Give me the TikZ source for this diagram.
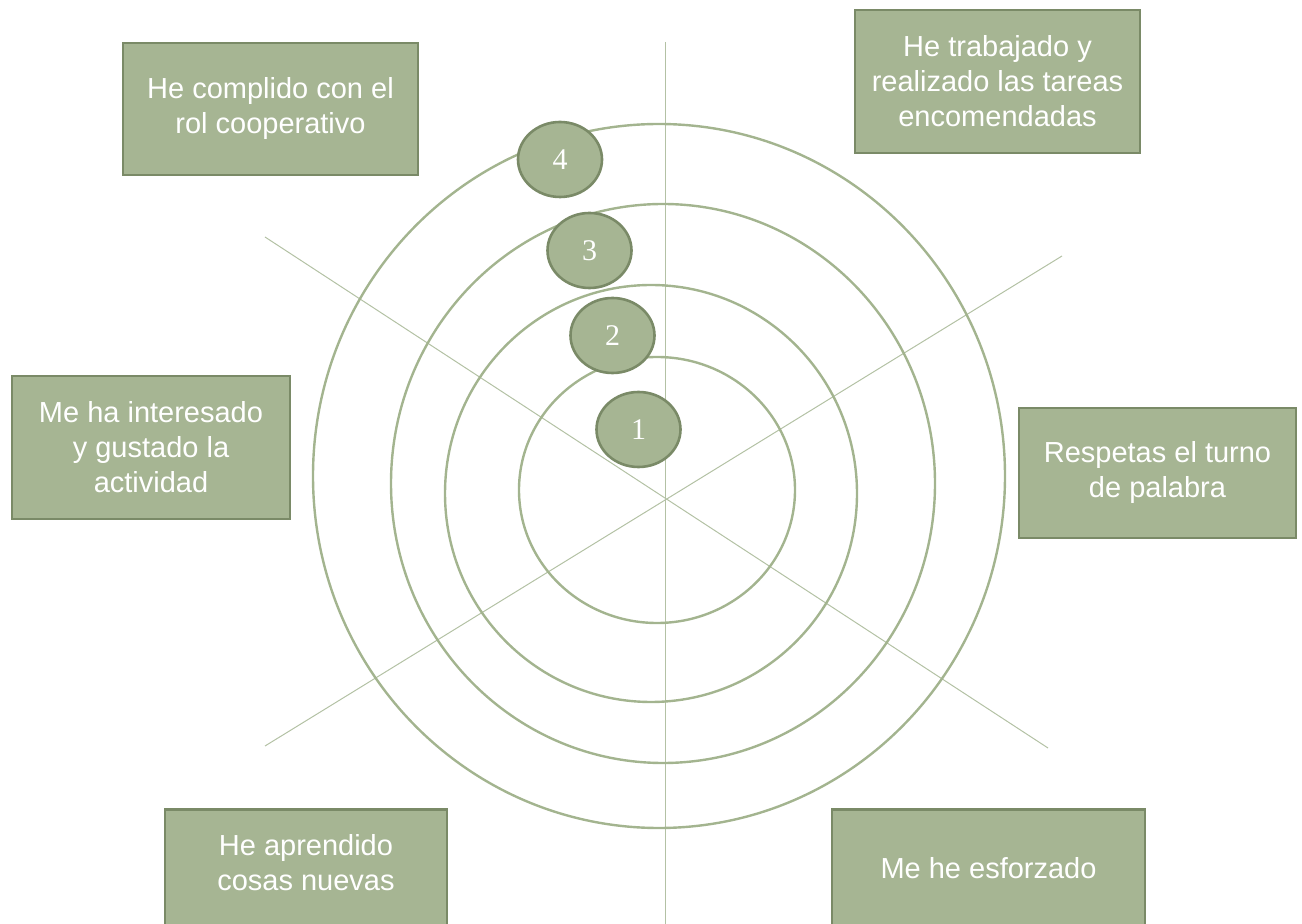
\documentclass[tikz,border=0pt]{standalone}
\usepackage{fontspec}
\setmainfont{Liberation Sans}
\newfontfamily\numfont{Liberation Serif}
\usetikzlibrary{shapes.geometric}
\definecolor{sage}{HTML}{A6B593}
\definecolor{sagedark}{HTML}{7A8A67}
\definecolor{ringcol}{HTML}{A3B48F}
\definecolor{spokecol}{HTML}{B3C1A4}
\begin{document}
\begin{tikzpicture}[x=0.5pt,y=-0.5pt,
    ring/.style={draw=ringcol,line width=1.2pt},
    spoke/.style={draw=spokecol,line width=0.5pt},
    box/.style={rectangle,fill=sage,draw=sagedark,line width=1.3pt},
    boxtext/.style={text=white,align=center,font=\fontsize{14.5}{17.5}\selectfont},
    level/.style={ellipse,fill=sage,draw=sagedark,line width=1.3pt,text=white,
        minimum width=42pt,minimum height=37.5pt,inner sep=0pt,
        font=\numfont\fontsize{15}{15}\selectfont}]
    \useasboundingbox (0,0) rectangle (1302,924);
    \clip (0,0) rectangle (1302,924);
    % axes
    \coordinate (c) at (665,497);
    \coordinate (top) at (665,42);
    \coordinate (bot) at (665,924);
    \coordinate (nw) at (265,237);
    \coordinate (se) at (1048,748);
    \coordinate (ne) at (1062,256);
    \coordinate (sw) at (265,746);
    \draw[spoke] (top) -- (bot);
    \draw[spoke] (nw) -- (se);
    \draw[spoke] (ne) -- (sw);
    % rings
    \foreach \cx/\cy/\rx/\ry in {659/476/346/352, 663/483.5/272/279.5, 651/493.5/206/208.5, 657/490/138/133}
        \draw[ring] (\cx,\cy) ellipse [x radius=\rx, y radius=\ry];
    % levels
    \foreach \n/\x/\y in {1/638.5/429.5, 2/612.5/335.5, 3/589.5/250.5, 4/560/159.5}
        \node[level] (n\n) at (\x,\y) {\n};
    % labels
    \node[box,boxtext,minimum width=147.5pt,minimum height=66pt] (rol) at (270.5,109) {He complido con el\\rol cooperativo};
    \node[box,boxtext,minimum width=142.5pt,minimum height=71.5pt] (tareas) at (997.5,81.5) {He trabajado y\\realizado las tareas\\encomendadas};
    \node[box,boxtext,minimum width=139pt,minimum height=71.5pt] (interes) at (151,447.5) {Me ha interesado\\y gustado la\\actividad};
    \node[box,boxtext,minimum width=138.5pt,minimum height=65pt] (turno) at (1157.5,473) {Respetas el turno\\de palabra};
    \node[box,minimum width=141pt,minimum height=70pt,anchor=north] (aprend) at (306,808) {};
    \node[boxtext] (aprendtxt) at (306,863) {He aprendido\\cosas nuevas};
    \node[box,minimum width=156.5pt,minimum height=70pt,anchor=north] (esfuerzo) at (988.5,808) {};
    \node[boxtext] (esfuerzotxt) at (988.5,868) {Me he esforzado};
\end{tikzpicture}
\end{document}
